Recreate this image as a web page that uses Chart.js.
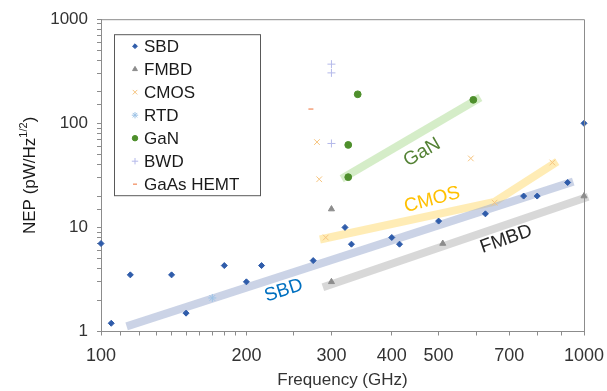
<!DOCTYPE html>
<html>
<head>
<meta charset="utf-8">
<script src="https://cdn.jsdelivr.net/npm/chart.js@4.4.1/dist/chart.umd.min.js"></script>
<style>
  html, body { margin: 0; padding: 0; background: #fff; }
</style>
</head>
<body>
<canvas id="c" width="607" height="391"></canvas>
<script>
// DATA (frequency GHz, NEP pW/Hz^1/2)
const sbd = [[100, 7], [105, 1.2], [115, 3.5], [140, 3.5], [150, 1.5], [180, 4.3], [200, 3], [215, 4.3],
  [275, 4.8], [320, 10], [330, 6.9], [400, 8], [415, 6.9], [500, 11.5], [625, 13.5], [750, 20], [800, 20],
  [925, 27], [1000, 100]];
const fmbd = [[300, 15], [300, 3], [510, 7], [1000, 20]];
const cmos = [[280, 66], [283, 29], [292, 8], [583, 46], [653, 17.3], [860, 42]];
const rtd = [[170, 2.1]];
const gan = [[340, 190], [325, 62], [325, 30.4], [590, 168]];
const bwd = [[300, 370], [300, 305], [300, 64]];
const gaasHemt = [[272, 137]];

// TREND BANDS
const sbdTrend = [[113, 1.12], [950, 27.5]];
const fmbdTrend = [[288, 2.66], [1020, 19.7]];
const cmosTrend = [[284, 7.65], [653, 17.6], [880, 42.9]];
const ganTrend = [[315, 29.3], [610, 177]];

// TICK LABELS
const xTickLabels = [100, 200, 300, 400, 500, 700, 1000];
const yTickLabels = [1, 10, 100, 1000];

// BAND TEXT [text, x, y, angle, color]
const bandLabels = [
  ["GaN", 462, 52.5, -30, "#548235"],
  ["CMOS", 485, 18.4, -15, "#FFC000"],
  ["SBD", 239, 2.47, -18, "#0070C0"],
  ["FMBD", 690, 7.7, -19, "#262626"]
];

const FONT = "'Liberation Sans', Arial, sans-serif";
const toXY = arr => arr.map(p => ({ x: p[0], y: p[1] }));

function points(label, arr, style, color, radius, bw) {
  return {
    type: "scatter",
    label: label,
    data: toXY(arr),
    pointStyle: style,
    pointRadius: radius,
    pointHoverRadius: radius,
    backgroundColor: color,
    borderColor: color,
    borderWidth: bw,
    clip: false,
    order: 0,
    isSeries: true
  }
}

function band(arr, color) {
  return {
    type: "line",
    label: "",
    data: toXY(arr),
    borderColor: color,
    borderWidth: 8,
    borderCapStyle: "butt",
    pointRadius: 0,
    fill: false,
    tension: 0,
    clip: false,
    order: 10
  }
}

const datasets = [
  band(sbdTrend, "rgba(160,174,210,0.55)"),
  band(fmbdTrend, "rgba(200,200,200,0.7)"),
  band(cmosTrend, "rgba(255,220,120,0.55)"),
  band(ganTrend, "rgba(190,228,170,0.65)"),
  points("SBD", sbd, "rectRot", "#2F5CAA", 3, 1),
  points("FMBD", fmbd, "triangle", "#8C8C8C", 3.5, 1),
  points("CMOS", cmos, "crossRot", "#F6C47E", 4, 1),
  points("RTD", rtd, "star", "#9DC3E6", 4, 1),
  points("GaN", gan, "circle", "#4E8F2C", 3.4, 1),
  points("BWD", bwd, "cross", "#B4B9EA", 4, 1),
  points("GaAs HEMT", gaasHemt, "line", "#F4A07A", 2.5, 1.5)
];

// BINGKAI, LEGEND, JUDUL Y, LABEL BAND
const extras = {
  id: "extras",
  afterDatasetsDraw(chart) {
    const { ctx, chartArea: a, scales } = chart;
    ctx.save();

    // frame top + right
    ctx.strokeStyle = "#8C8C8C";
    ctx.lineWidth = 1;
    ctx.beginPath();
    ctx.moveTo(a.left, a.top + 0.5);
    ctx.lineTo(a.right + 0.5, a.top + 0.5);
    ctx.lineTo(a.right + 0.5, a.bottom);
    ctx.stroke();

    // band labels
    bandLabels.forEach(l => {
      const px = scales.x.getPixelForValue(l[1]);
      const py = scales.y.getPixelForValue(l[2]);
      ctx.save();
      ctx.translate(px, py);
      ctx.rotate(l[3] * Math.PI / 180);
      ctx.font = "19px " + FONT;
      ctx.fillStyle = l[4];
      ctx.textAlign = "center";
      ctx.textBaseline = "middle";
      ctx.fillText(l[0], 0, 0);
      ctx.restore();
    });

    // legend box
    const lx = a.left + 13, ly = a.top + 15, lw = 146, lh = 161;
    ctx.fillStyle = "#fff";
    ctx.fillRect(lx, ly, lw, lh);
    ctx.strokeStyle = "#595959";
    ctx.strokeRect(lx + 0.5, ly + 0.5, lw, lh);
    const series = chart.data.datasets.filter(d => d.isSeries);
    series.forEach((d, i) => {
      const y = ly + 12 + i * 23;
      ctx.fillStyle = d.backgroundColor;
      ctx.strokeStyle = d.borderColor;
      ctx.lineWidth = d.borderWidth;
      Chart.helpers.drawPoint(ctx, { pointStyle: d.pointStyle, radius: d.pointRadius * 0.8, rotation: 0, borderWidth: d.borderWidth }, lx + 21, y);
      ctx.fillStyle = "#1a1a1a";
      ctx.font = "17px " + FONT;
      ctx.textAlign = "left";
      ctx.textBaseline = "middle";
      ctx.fillText(d.label, lx + 30, y + 1);
    });

    // y title with superscript
    const cx = 30, cy = (a.top + a.bottom) / 2;
    ctx.translate(cx, cy);
    ctx.rotate(-Math.PI / 2);
    ctx.fillStyle = "#1a1a1a";
    ctx.textBaseline = "middle";
    ctx.textAlign = "left";
    const main = "NEP (pW/Hz", sup = "1/2", end = ")";
    ctx.font = "17px " + FONT;
    const w1 = ctx.measureText(main).width, w3 = ctx.measureText(end).width;
    ctx.font = "11px " + FONT;
    const w2 = ctx.measureText(sup).width;
    let x0 = -(w1 + w2 + w3) / 2;
    ctx.font = "17px " + FONT;
    ctx.fillText(main, x0, 0);
    ctx.font = "11px " + FONT;
    ctx.fillText(sup, x0 + w1, -6);
    ctx.font = "17px " + FONT;
    ctx.fillText(end, x0 + w1 + w2, 0);

    ctx.restore();
  }
};

new Chart(document.getElementById("c"), {
  data: { datasets: datasets },
  options: {
    responsive: false,
    animation: false,
    layout: { padding: { top: 15, right: 23, left: 0, bottom: 0 } },
    plugins: {
      legend: { display: false },
      tooltip: { enabled: false }
    },
    scales: {
      x: {
        type: "logarithmic",
        min: 100,
        max: 1000,
        afterFit: s => {
          s.height = 59.5
          s.paddingRight = 0   // biar area plot tidak menyusut
          s.paddingLeft = 0
        },
        border: { color: "#8C8C8C", width: 1 },
        grid: { drawOnChartArea: false, drawTicks: true, tickLength: 4, color: "#8C8C8C" },
        ticks: {
          autoSkip: false,
          maxRotation: 0,
          padding: 10,
          color: "#333",
          font: { family: FONT, size: 18 },
          callback: v => xTickLabels.includes(v) ? String(v) : ""
        },
        title: {
          display: true,
          text: "Frequency (GHz)",
          color: "#333",
          font: { family: FONT, size: 17 },
          padding: { top: 0, bottom: 0 }
        }
      },
      y: {
        type: "logarithmic",
        min: 1,
        max: 1000,
        afterFit: s => { s.width = 101 },
        border: { color: "#8C8C8C", width: 1 },
        grid: { drawOnChartArea: false, drawTicks: true, tickLength: 4, color: "#8C8C8C" },
        ticks: {
          autoSkip: false,
          padding: 9,
          color: "#333",
          font: { family: FONT, size: 17 },
          callback: v => yTickLabels.includes(v) ? String(v) : ""
        }
      }
    }
  },
  plugins: [extras]
});
</script>
</body>
</html>
